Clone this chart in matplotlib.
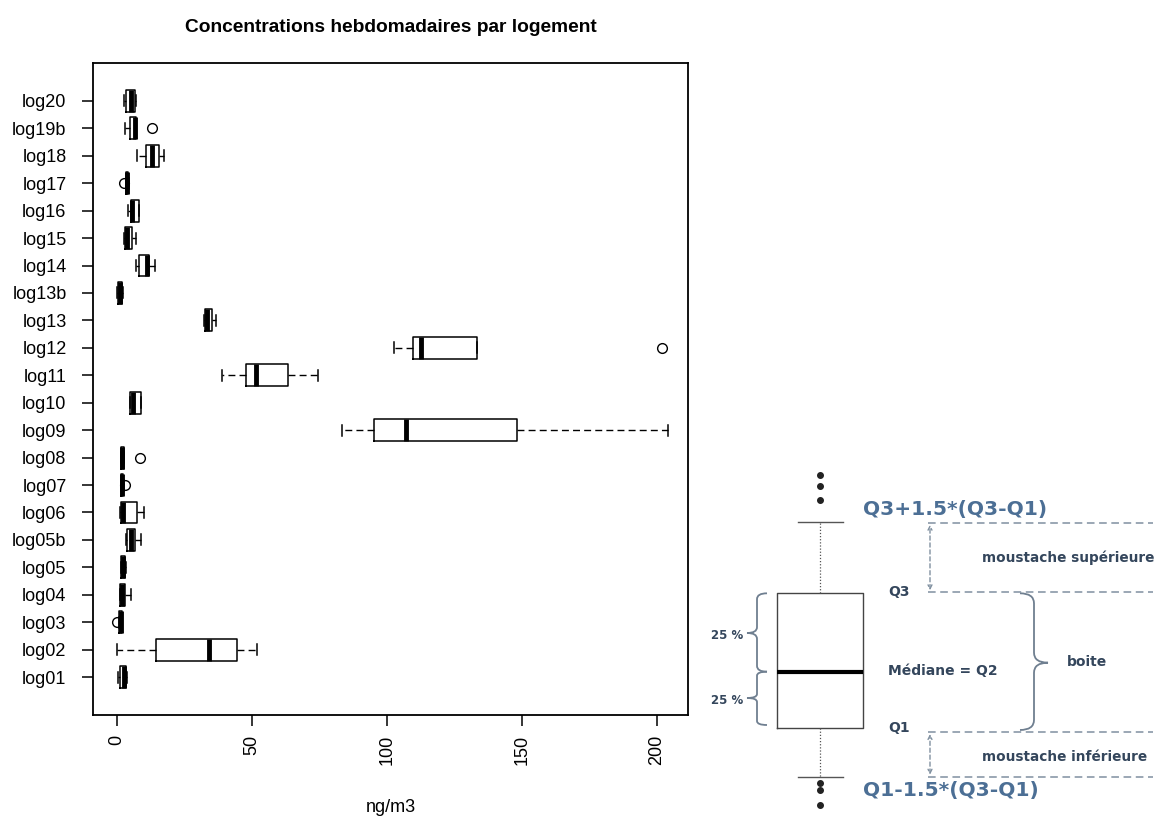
import matplotlib
matplotlib.use("Agg")
import matplotlib.pyplot as plt
from matplotlib.path import Path
from matplotlib.patches import PathPatch

plt.rcParams['font.family'] = ['Liberation Sans', 'DejaVu Sans']

# Weekly concentrations per dwelling (ng/m3)
names = ['log01', 'log02', 'log03', 'log04', 'log05', 'log05b', 'log06', 'log07',
         'log08', 'log09', 'log10', 'log11', 'log12', 'log13', 'log13b', 'log14',
         'log15', 'log16', 'log17', 'log18', 'log19b', 'log20']
whislo = [0.2, 0.0, 0.8, 1.0, 1.4, 3.5, 1.2, 1.4, 1.4, 83.3, 4.8, 38.8, 102.6, 32.3,
          0.0, 7.1, 2.4, 4.2, 3.3, 7.3, 3.1, 2.6]
q1 = [1.0, 14.4, 0.9, 1.2, 1.6, 3.8, 1.4, 1.6, 1.6, 95.1, 4.8, 47.8, 109.6, 32.5,
      0.3, 8.1, 3.1, 5.2, 3.5, 10.8, 4.8, 3.2]
med = [2.5, 34.0, 1.3, 1.8, 2.2, 5.0, 2.3, 2.0, 2.0, 106.9, 6.0, 51.6, 112.5, 33.2,
       1.0, 11.0, 3.8, 5.6, 3.8, 13.0, 6.5, 5.0]
q3 = [3.5, 44.3, 1.8, 2.8, 2.8, 6.5, 7.5, 2.3, 2.4, 148.3, 8.8, 63.5, 133.4, 35.2,
      1.8, 12.0, 5.6, 8.0, 4.2, 15.7, 7.0, 6.5]
whishi = [3.8, 52.0, 2.0, 5.1, 3.2, 8.8, 10.1, 2.5, 2.6, 204.1, 8.8, 74.3, 133.4, 36.8,
          2.3, 14.1, 6.9, 8.2, 4.5, 17.5, 7.0, 7.0]
fliers = [[], [], [0.0], [], [], [], [], [2.8], [8.6], [], [], [], [202.0], [],
          [], [], [], [], [2.5], [], [12.9], []]

xticks = [0, 50, 100, 150, 200]

# Schematic boxplot of the explanation panel (panel units, y grows downward)
diag_hi = 61.7
diag_q3 = 133.3
diag_med = 211.7
diag_q1 = 268.0
diag_lo = 316.7
diag_out = [15, 26, 40, 322.7, 330, 345]

fig = plt.figure(figsize=(11.58, 8.21), dpi=100)

# ---- main boxplot ----
ax = fig.add_axes([93 / 1158, 1 - 715 / 821, 595 / 1158, 652 / 821])
stats = []
for i in range(len(names)):
    stats.append({'label': names[i], 'whislo': whislo[i], 'q1': q1[i], 'med': med[i],
                  'q3': q3[i], 'whishi': whishi[i], 'fliers': fliers[i]})

ax.bxp(stats, positions=range(1, len(names) + 1), widths=0.8, orientation='horizontal',
       showfliers=True, patch_artist=False,
       boxprops=dict(color='black', linewidth=1.1),
       medianprops=dict(color='black', linewidth=3.5, solid_capstyle='butt'),
       whiskerprops=dict(color='black', linewidth=1.0, linestyle=(0, (5, 3))),
       capprops=dict(color='black', linewidth=1.1),
       capwidths=0.4,
       flierprops=dict(marker='o', markerfacecolor='none', markeredgecolor='black',
                       markersize=7, markeredgewidth=1.0))

ax.set_xlim(-8.9, 211.5)
ax.set_ylim(-0.38, 23.38)
ax.set_xticks(xticks)
ax.set_xticklabels([str(t) for t in xticks], rotation=90, fontsize=13)
ax.set_yticks(range(1, len(names) + 1))
ax.set_yticklabels(names, fontsize=13)
ax.tick_params(axis='both', direction='out', length=8, width=1.1, pad=6)
ax.tick_params(axis='y', pad=11)
for s in ax.spines.values():
    s.set_linewidth(1.3)
ax.set_xlabel('ng/m3', fontsize=13, labelpad=25)
ax.set_title('Concentrations hebdomadaires par logement', fontsize=13.8,
             fontweight='bold', pad=22)

# ---- explanation panel ----
dx = fig.add_axes([700 / 1158, 0, 458 / 1158, 361 / 821])

dstat = [{'whislo': diag_lo, 'q1': diag_q1, 'med': diag_med, 'q3': diag_q3,
          'whishi': diag_hi, 'fliers': diag_out}]
dx.bxp(dstat, positions=[120], widths=86, capwidths=45, orientation='vertical',
       boxprops=dict(color='#444444', linewidth=1.0),
       medianprops=dict(color='black', linewidth=3, solid_capstyle='butt'),
       whiskerprops=dict(color='#555555', linewidth=0.9, linestyle=(0, (1, 1.5))),
       capprops=dict(color='#555555', linewidth=1.0),
       flierprops=dict(marker='o', markerfacecolor='#222222', markeredgecolor='#222222',
                       markersize=4))
dx.set_xlim(0, 458)
dx.set_ylim(361, 0)
dx.axis('off')


def brace(axis, x, y0, y1, depth, tip=None):
    # vertical curly brace from y0 to y1, tip offset by depth in x
    if tip is None:
        tip = (y0 + y1) / 2
    xm = x + depth / 2
    r = min(abs(tip - y0), abs(y1 - tip)) * 0.15
    verts = [(x, y0), (xm, y0), (xm, y0 + r), (xm, tip - r), (xm, tip), (x + depth, tip),
             (xm, tip), (xm, tip + r), (xm, y1 - r), (xm, y1), (x, y1)]
    codes = [Path.MOVETO, Path.CURVE3, Path.CURVE3, Path.LINETO, Path.CURVE3, Path.CURVE3,
             Path.CURVE3, Path.CURVE3, Path.LINETO, Path.CURVE3, Path.CURVE3]
    axis.add_patch(PathPatch(Path(verts, codes), fill=False, edgecolor='#6f7f90', lw=1.3))


brace(dx, 67, diag_q3, diag_med, -20, 173)
brace(dx, 67, diag_med, 265, -20, 238)
brace(dx, 320, diag_q3, 270, 28, 202.7)

dash_col = '#8090a0'
for yy in [62.7, diag_q3 - 1, diag_q1 + 4, diag_lo]:
    dx.plot([228, 453], [yy, yy], color=dash_col, lw=1.1, linestyle=(0, (5, 3)))
for ya, yb in [(62.7, diag_q3 - 1), (diag_q1 + 4, diag_lo)]:
    dx.annotate('', xy=(230, ya + 2), xytext=(230, yb - 2),
                arrowprops=dict(arrowstyle='<->', color=dash_col, lw=1.0,
                                linestyle=(0, (3, 2)), shrinkA=0, shrinkB=0,
                                mutation_scale=7))

blue = '#4c6f95'
dark = '#34465c'
dx.text(163, 50, 'Q3+1.5*(Q3-Q1)', color=blue, fontsize=14.6, fontweight='bold',
        ha='left', va='center', family='DejaVu Sans')
dx.text(163, 330, 'Q1-1.5*(Q3-Q1)', color=blue, fontsize=14.6, fontweight='bold',
        ha='left', va='center', family='DejaVu Sans')
dx.text(282, 98, 'moustache supérieure', color=dark, fontsize=9.8, fontweight='bold',
        ha='left', va='center', family='DejaVu Sans')
dx.text(282, 297, 'moustache inférieure', color=dark, fontsize=9.8, fontweight='bold',
        ha='left', va='center', family='DejaVu Sans')
dx.text(188, 132, 'Q3', color=dark, fontsize=10, fontweight='bold', ha='left',
        va='center', family='DejaVu Sans')
dx.text(188, 268, 'Q1', color=dark, fontsize=10, fontweight='bold', ha='left',
        va='center', family='DejaVu Sans')
dx.text(188, 211, 'Médiane = Q2', color=dark, fontsize=10, fontweight='bold', ha='left',
        va='center', family='DejaVu Sans')
dx.text(367, 202, 'boite', color=dark, fontsize=10, fontweight='bold', ha='left',
        va='center', family='DejaVu Sans')
dx.text(43, 175, '25 %', color=dark, fontsize=8.5, fontweight='bold', ha='right',
        va='center', family='DejaVu Sans')
dx.text(43, 240, '25 %', color=dark, fontsize=8.5, fontweight='bold', ha='right',
        va='center', family='DejaVu Sans')

fig.savefig('out.png', dpi=100)
